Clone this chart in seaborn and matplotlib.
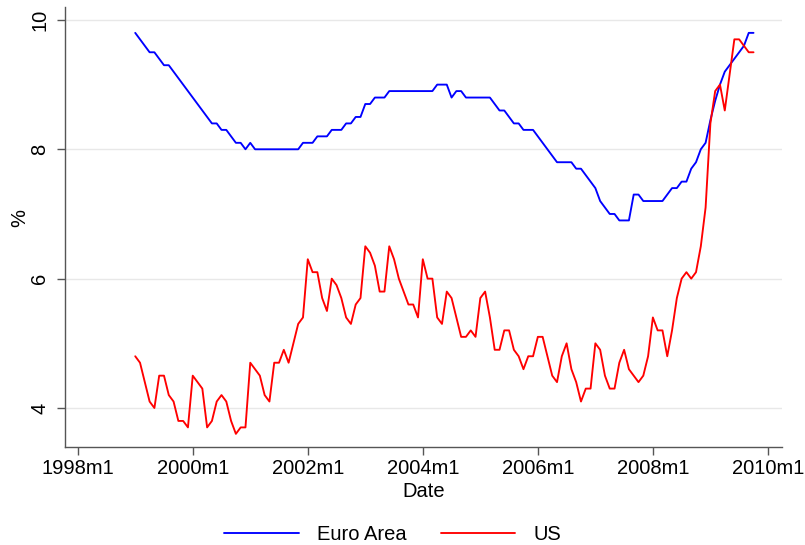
import numpy as np
import pandas as pd
import matplotlib
matplotlib.use("Agg")
import matplotlib.pyplot as plt
import seaborn as sns

# ---- data (monthly, 1999m1 .. 2009m10) ----
start_year = 1999
euro_area = [
    9.8, 9.7, 9.6, 9.5, 9.5, 9.4, 9.3, 9.3, 9.2, 9.1,
    9.0, 8.9, 8.8, 8.7, 8.6, 8.5, 8.4, 8.4, 8.3, 8.3,
    8.2, 8.1, 8.1, 8.0, 8.1, 8.0, 8.0, 8.0, 8.0, 8.0,
    8.0, 8.0, 8.0, 8.0, 8.0, 8.1, 8.1, 8.1, 8.2, 8.2,
    8.2, 8.3, 8.3, 8.3, 8.4, 8.4, 8.5, 8.5, 8.7, 8.7,
    8.8, 8.8, 8.8, 8.9, 8.9, 8.9, 8.9, 8.9, 8.9, 8.9,
    8.9, 8.9, 8.9, 9.0, 9.0, 9.0, 8.8, 8.9, 8.9, 8.8,
    8.8, 8.8, 8.8, 8.8, 8.8, 8.7, 8.6, 8.6, 8.5, 8.4,
    8.4, 8.3, 8.3, 8.3, 8.2, 8.1, 8.0, 7.9, 7.8, 7.8,
    7.8, 7.8, 7.7, 7.7, 7.6, 7.5, 7.4, 7.2, 7.1, 7.0,
    7.0, 6.9, 6.9, 6.9, 7.3, 7.3, 7.2, 7.2, 7.2, 7.2,
    7.2, 7.3, 7.4, 7.4, 7.5, 7.5, 7.7, 7.8, 8.0, 8.1,
    8.45, 8.75, 9.0, 9.2, 9.3, 9.4, 9.5, 9.6, 9.8, 9.8,
]
us = [
    4.8, 4.7, 4.4, 4.1, 4.0, 4.5, 4.5, 4.2, 4.1, 3.8,
    3.8, 3.7, 4.5, 4.4, 4.3, 3.7, 3.8, 4.1, 4.2, 4.1,
    3.8, 3.6, 3.7, 3.7, 4.7, 4.6, 4.5, 4.2, 4.1, 4.7,
    4.7, 4.9, 4.7, 5.0, 5.3, 5.4, 6.3, 6.1, 6.1, 5.7,
    5.5, 6.0, 5.9, 5.7, 5.4, 5.3, 5.6, 5.7, 6.5, 6.4,
    6.2, 5.8, 5.8, 6.5, 6.3, 6.0, 5.8, 5.6, 5.6, 5.4,
    6.3, 6.0, 6.0, 5.4, 5.3, 5.8, 5.7, 5.4, 5.1, 5.1,
    5.2, 5.1, 5.7, 5.8, 5.4, 4.9, 4.9, 5.2, 5.2, 4.9,
    4.8, 4.6, 4.8, 4.8, 5.1, 5.1, 4.8, 4.5, 4.4, 4.8,
    5.0, 4.6, 4.4, 4.1, 4.3, 4.3, 5.0, 4.9, 4.5, 4.3,
    4.3, 4.7, 4.9, 4.6, 4.5, 4.4, 4.5, 4.8, 5.4, 5.2,
    5.2, 4.8, 5.2, 5.7, 6.0, 6.1, 6.0, 6.1, 6.5, 7.1,
    8.4, 8.9, 9.0, 8.6, 9.15, 9.7, 9.7, 9.6, 9.5, 9.5,
]
series_names = ["Euro Area", "US"]
x_tick_years = [1998, 2000, 2002, 2004, 2006, 2008, 2010]
x_tick_labels = [f"{y}m1" for y in x_tick_years]
y_ticks = [4, 6, 8, 10]

months = np.arange(len(euro_area))
t = start_year + months / 12.0
df = pd.concat([
    pd.DataFrame({"Date": t, "value": euro_area, "series": series_names[0]}),
    pd.DataFrame({"Date": t, "value": us, "series": series_names[1]}),
], ignore_index=True)

sns.set_style("white")
plt.rcParams["font.family"] = ["Liberation Sans", "DejaVu Sans"]
plt.rcParams["text.color"] = "black"
plt.rcParams["axes.labelcolor"] = "black"

fig = plt.figure(figsize=(8.05, 5.45), dpi=100)
ax = fig.add_axes([65 / 805, 1 - 447 / 545, (782 - 65) / 805, (447 - 7) / 545])

sns.lineplot(data=df, x="Date", y="value", hue="series",
             palette={"Euro Area": "#0000FF", "US": "#FF0000"},
             linewidth=1.35, ax=ax, legend=True, zorder=3)

ax.set_xlim(1997.779, 2010.245)
ax.set_ylim(3.397, 10.2)
ax.set_xticks(x_tick_years)
ax.set_xticklabels(x_tick_labels)
ax.set_yticks(y_ticks)
ax.set_yticklabels([str(v) for v in y_ticks])
for lab in ax.get_yticklabels():
    lab.set_rotation(90)
    lab.set_va("center")

ax.grid(axis="y", color="#E8E8E8", linewidth=1.0, zorder=0)
ax.grid(axis="x", visible=False)
for s in ["top", "right"]:
    ax.spines[s].set_visible(False)
for s in ["left", "bottom"]:
    ax.spines[s].set_color("#555555")
    ax.spines[s].set_linewidth(1.0)

ax.tick_params(axis="both", which="major", direction="out", length=5.5,
               width=1.0, color="#555555", labelsize=14.5, labelcolor="black")
ax.tick_params(axis="y", pad=6, left=True)
ax.tick_params(axis="x", pad=3, bottom=True)

ax.set_xlabel("Date", fontsize=14.5, color="black")
ax.set_ylabel("%", fontsize=14.5, color="black")
ax.xaxis.set_label_coords(0.5, -0.079)
ax.yaxis.set_label_coords(-0.05, 0.52)

handles, labels = ax.get_legend_handles_labels()
ax.get_legend().remove()
leg = fig.legend(handles, labels, loc="center", bbox_to_anchor=(0.488, 0.02),
                 ncol=2, frameon=False, fontsize=14.5, handlelength=3.7,
                 handletextpad=0.9, columnspacing=1.7)
for txt in leg.get_texts():
    txt.set_color("black")

fig.savefig("out.png", dpi=100)
